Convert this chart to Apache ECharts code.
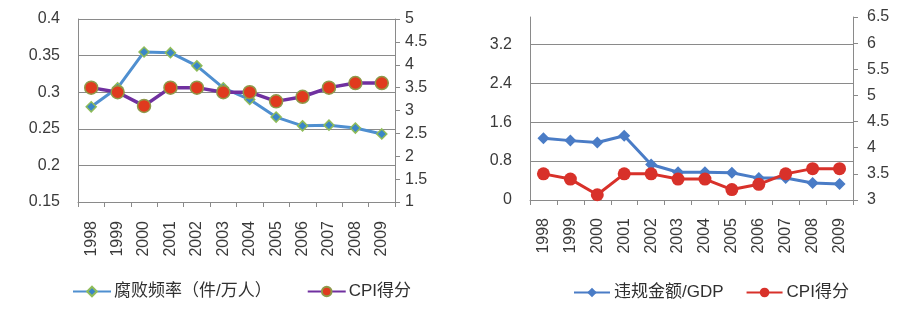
<!DOCTYPE html>
<html><head><meta charset="utf-8">
<script src="https://cdn.jsdelivr.net/npm/echarts@6/dist/echarts.min.js"></script>
<style>html,body{margin:0;padding:0;background:#fff}#c{width:916px;height:313px}</style>
</head><body><div id="c"></div>
<script>
const years = ['1998','1999','2000','2001','2002','2003','2004','2005','2006','2007','2008','2009'];
const corruptionRate = [0.280,0.306,0.355,0.354,0.336,0.306,0.290,0.266,0.254,0.255,0.251,0.243];
const cpiScore = [3.5,3.4,3.1,3.5,3.5,3.4,3.4,3.2,3.3,3.5,3.6,3.6];
const violationGdp = [1.27,1.22,1.18,1.32,0.73,0.57,0.57,0.56,0.45,0.45,0.35,0.33];
const leftNames = ['腐败频率（件/万人）','CPI得分'];
const rightNames = ['违规金额/GDP','CPI得分 '];

const FONT = '"Liberation Sans","Noto Sans CJK SC",sans-serif';
const axisCol = '#8a8a8a';
const txtCol = '#3a3a3a';
const lab = {color: txtCol, fontSize: 16, fontFamily: FONT};

function catAxis(gi){
  return {type:'category', gridIndex:gi, data:years, boundaryGap:true,
    axisLine:{lineStyle:{color:axisCol}}, axisTick:{show:true, length:5, lineStyle:{color:axisCol}},
    axisLabel:Object.assign({}, lab, {rotate:90, fontSize:16, margin:gi===0?19:18, interval:0})};
}
const chart = echarts.init(document.getElementById('c'), null, {renderer:'canvas'});
chart.setOption({
  animation:false,
  grid:[
    {left:78, right:521, top:19, bottom:111},
    {left:530, right:63, top:17, bottom:113}
  ],
  legend:[
    {data:leftNames, left:67, top:278, itemWidth:38, itemHeight:12, itemGap:35,
     textStyle:{color:'#303030', fontSize:17, fontFamily:FONT, padding:[0,0,0,-2]}},
    {data:rightNames, left:568, top:279, itemWidth:36, itemHeight:12, itemGap:22,
     textStyle:{color:'#303030', fontSize:17, fontFamily:FONT, padding:[0,0,0,-1]},
     formatter: n => n.trim()}
  ],
  xAxis:[catAxis(0), catAxis(1)],
  yAxis:[
    {type:'value', gridIndex:0, min:0.15, max:0.4, interval:0.05,
     axisLine:{show:true, lineStyle:{color:axisCol}}, axisTick:{show:false},
     splitLine:{show:true, lineStyle:{color:axisCol, width:1}},
     axisLabel:Object.assign({}, lab, {margin:18, formatter:v=>String(+v.toFixed(2))})},
    {type:'value', gridIndex:0, position:'right', min:1, max:5, interval:0.5,
     axisLine:{show:true, lineStyle:{color:axisCol}}, axisTick:{show:true, length:5, lineStyle:{color:axisCol}},
     splitLine:{show:false},
     axisLabel:Object.assign({}, lab, {margin:10, formatter:v=>String(+v.toFixed(1))})},
    {type:'value', gridIndex:1, min:0, max:3.76, interval:0.8,
     axisLine:{show:true, lineStyle:{color:axisCol}}, axisTick:{show:false},
     splitLine:{show:true, showMaxLine:false, lineStyle:{color:axisCol, width:1}},
     axisLabel:Object.assign({}, lab, {margin:18, showMaxLabel:false, formatter:v=>String(+v.toFixed(1))})},
    {type:'value', gridIndex:1, position:'right', min:3, max:6.5, interval:0.5,
     axisLine:{show:true, lineStyle:{color:axisCol}}, axisTick:{show:true, length:5, lineStyle:{color:axisCol}},
     splitLine:{show:false},
     axisLabel:Object.assign({}, lab, {margin:14, formatter:v=>String(+v.toFixed(1))})}
  ],
  series:[
    {name:leftNames[0], type:'line', xAxisIndex:0, yAxisIndex:0, data:corruptionRate,
     symbol:'diamond', symbolSize:10, lineStyle:{color:'#4f8fd0', width:3},
     itemStyle:{color:'#3a86c8', borderColor:'#8fbc5a', borderWidth:1.5}, z:3},
    {name:leftNames[1], type:'line', xAxisIndex:0, yAxisIndex:1, data:cpiScore,
     symbol:'circle', symbolSize:13, lineStyle:{color:'#7030a0', width:3.5},
     itemStyle:{color:'#e03a1e', borderColor:'#8f9a4a', borderWidth:1.5}, z:4},
    {name:rightNames[0], type:'line', xAxisIndex:1, yAxisIndex:2, data:violationGdp,
     symbol:'diamond', symbolSize:12, lineStyle:{color:'#4a7cc6', width:3},
     itemStyle:{color:'#4a7cc6'}, z:3},
    {name:rightNames[1], type:'line', xAxisIndex:1, yAxisIndex:3, data:cpiScore,
     symbol:'circle', symbolSize:13, lineStyle:{color:'#d8312a', width:3},
     itemStyle:{color:'#d8312a'}, z:4}
  ]
});
</script></body></html>
